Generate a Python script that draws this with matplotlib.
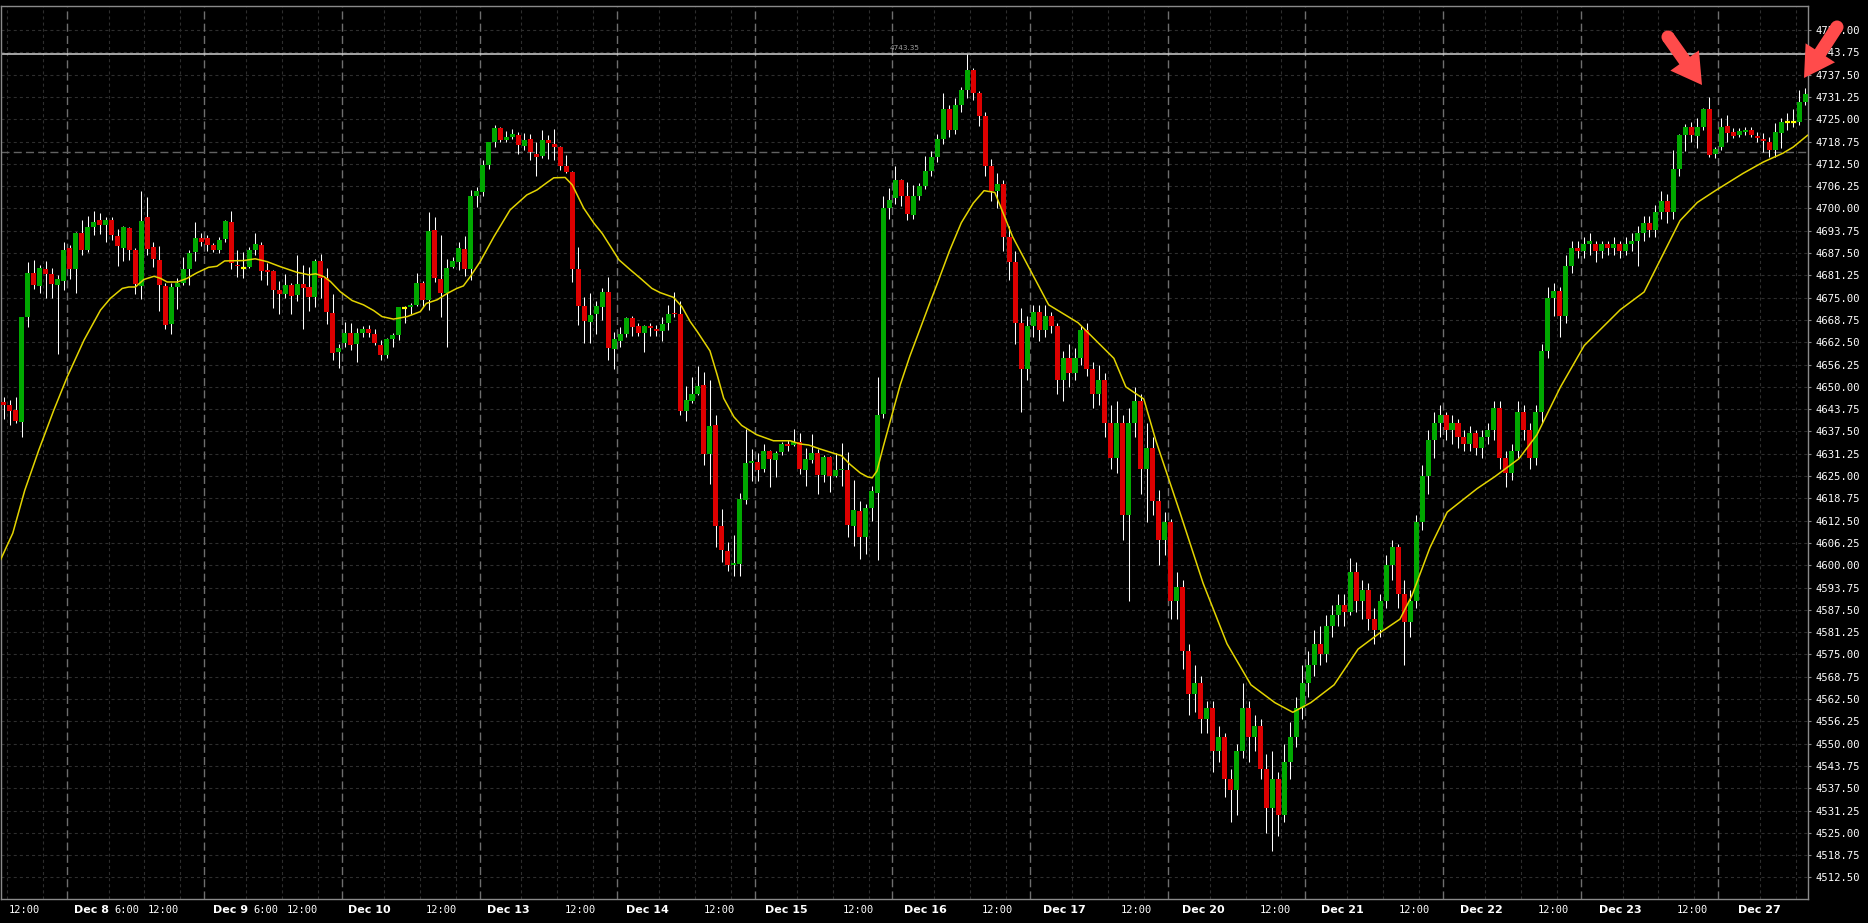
import numpy as np
import matplotlib
matplotlib.use("Agg")
import matplotlib.pyplot as plt
from matplotlib.patches import FancyArrow, Circle
from matplotlib.collections import LineCollection
from matplotlib.transforms import IdentityTransform

plt.rcParams['lines.scale_dashes'] = False

# ---------------- data (hourly candles, x = bar number) ----------------
opens = [4645.8, 4644.9, 4643.5, 4640.2, 4669.6, 4681.8, 4678.3, 4683.0, 4681.6, 4678.5,
         4679.6, 4688.9, 4683.0, 4693.2, 4688.3, 4694.9, 4696.9, 4695.3, 4696.7, 4692.3,
         4689.0, 4694.4, 4688.5, 4678.3, 4697.6, 4689.1, 4685.5, 4678.2, 4667.7, 4678.0,
         4679.2, 4683.0, 4687.8, 4691.6, 4691.6, 4689.7, 4688.3, 4691.4, 4696.3, 4684.3,
         4683.4, 4683.7, 4688.4, 4689.8, 4682.8, 4682.4, 4677.2, 4676.1, 4678.6, 4675.8,
         4678.8, 4677.9, 4675.3, 4685.3, 4680.4, 4670.8, 4659.9, 4662.4, 4665.0, 4661.9,
         4665.2, 4666.2, 4664.8, 4661.7, 4658.8, 4663.3, 4664.6, 4672.1, 4672.5, 4673.0,
         4679.0, 4674.4, 4694.0, 4680.2, 4676.4, 4683.7, 4685.1, 4688.6, 4683.1, 4703.5,
         4704.7, 4712.2, 4718.5, 4722.6, 4719.2, 4720.1, 4720.6, 4717.6, 4719.5, 4715.3,
         4714.8, 4719.2, 4718.1, 4717.2, 4711.9, 4710.1, 4683.1, 4672.7, 4668.3, 4670.4,
         4672.5, 4676.6, 4660.7, 4663.0, 4664.8, 4669.2, 4667.1, 4665.2, 4667.1, 4666.1,
         4665.8, 4667.8, 4670.8, 4670.3, 4643.3, 4646.1, 4648.0, 4650.4, 4631.2, 4639.2,
         4611.0, 4604.0, 4600.1, 4600.4, 4618.4, 4628.8, 4629.0, 4627.1, 4632.0, 4629.5,
         4631.8, 4634.1, 4633.8, 4634.5, 4626.7, 4629.5, 4631.6, 4625.3, 4630.4, 4625.0,
         4626.7, 4626.7, 4611.1, 4615.3, 4607.9, 4616.0, 4620.2, 4642.5, 4700.1, 4702.9,
         4708.1, 4703.5, 4698.2, 4703.6, 4706.3, 4710.5, 4714.5, 4719.5, 4728.0, 4722.0,
         4729.0, 4733.2, 4738.8, 4732.3, 4726.0, 4712.0, 4705.0, 4707.0, 4692.0, 4685.0,
         4668.0, 4655.0, 4667.0, 4671.0, 4666.0, 4670.0, 4667.0, 4652.0, 4658.0, 4654.0,
         4658.0, 4666.0, 4655.0, 4648.0, 4652.0, 4640.0, 4630.0, 4640.0, 4614.0, 4640.0,
         4646.0, 4627.0, 4633.0, 4618.0, 4607.0, 4612.0, 4590.0, 4594.0, 4576.0, 4564.0,
         4567.0, 4557.0, 4560.0, 4548.0, 4552.0, 4540.0, 4537.0, 4548.0, 4560.0, 4552.0,
         4555.0, 4543.0, 4532.0, 4540.0, 4530.0, 4545.0, 4552.0, 4560.0, 4567.0, 4572.0,
         4578.0, 4575.0, 4583.0, 4586.0, 4589.0, 4587.0, 4598.0, 4590.0, 4593.0, 4585.0,
         4582.0, 4590.0, 4600.0, 4605.0, 4592.0, 4584.0, 4590.0, 4612.0, 4625.0, 4635.0,
         4640.0, 4642.0, 4638.0, 4640.0, 4636.0, 4634.0, 4637.0, 4633.0, 4636.0, 4638.0,
         4644.0, 4630.0, 4626.0, 4632.0, 4643.0, 4638.0, 4630.0, 4643.0, 4660.0, 4675.0,
         4677.0, 4670.0, 4684.0, 4689.0, 4688.0, 4690.0, 4690.0, 4688.0, 4690.0, 4689.0,
         4690.0, 4688.0, 4690.0, 4691.0, 4693.0, 4696.0, 4694.0, 4699.0, 4702.0, 4699.0,
         4711.1, 4720.6, 4722.9, 4720.4, 4722.9, 4727.8, 4715.3, 4717.1, 4723.1, 4721.3,
         4720.6, 4721.5, 4722.0, 4720.3, 4719.6, 4718.7, 4716.4, 4721.1, 4724.2, 4724.2,
         4724.3, 4729.9]
highs = [4647.2, 4646.3, 4647.2, 4669.6, 4685.0, 4685.7, 4684.1, 4685.3, 4683.4, 4681.3,
         4690.7, 4689.7, 4693.5, 4696.7, 4697.8, 4699.3, 4698.6, 4697.7, 4697.7, 4694.2,
         4695.0, 4694.9, 4689.0, 4704.9, 4703.3, 4690.7, 4689.4, 4679.0, 4679.2, 4680.4,
         4686.3, 4688.3, 4696.3, 4693.0, 4692.5, 4690.2, 4692.0, 4696.9, 4699.2, 4688.3,
         4687.9, 4689.3, 4693.2, 4690.7, 4684.6, 4682.8, 4679.8, 4681.7, 4679.1, 4687.0,
         4684.2, 4683.7, 4685.9, 4687.3, 4683.2, 4676.0, 4662.1, 4668.2, 4667.8, 4666.4,
         4667.1, 4667.3, 4666.2, 4663.2, 4663.6, 4665.2, 4672.5, 4672.7, 4673.6, 4681.8,
         4679.8, 4699.1, 4697.7, 4692.6, 4685.9, 4686.5, 4690.7, 4692.3, 4705.2, 4706.1,
         4713.6, 4718.7, 4723.4, 4722.9, 4721.7, 4722.3, 4721.3, 4721.1, 4720.9, 4718.5,
         4722.0, 4720.6, 4722.3, 4717.4, 4715.0, 4710.6, 4689.3, 4675.1, 4676.4, 4674.2,
         4677.8, 4680.9, 4665.5, 4666.9, 4669.7, 4669.9, 4667.8, 4667.4, 4667.8, 4667.4,
         4669.5, 4673.0, 4676.6, 4674.1, 4650.3, 4652.9, 4655.9, 4654.1, 4652.0, 4642.2,
         4615.7, 4606.5, 4608.4, 4620.3, 4638.3, 4632.6, 4631.6, 4634.0, 4632.4, 4632.1,
         4634.5, 4635.1, 4638.3, 4637.0, 4633.0, 4636.8, 4632.6, 4630.9, 4630.7, 4631.4,
         4634.3, 4631.8, 4623.9, 4617.9, 4617.2, 4622.3, 4652.9, 4703.5, 4705.7, 4711.9,
         4708.4, 4707.4, 4706.5, 4707.2, 4714.8, 4716.0, 4721.0, 4732.3, 4729.0, 4731.0,
         4734.0, 4743.35, 4739.5, 4733.0, 4727.0, 4714.0, 4710.0, 4708.0, 4695.0, 4688.0,
         4672.0, 4670.0, 4673.0, 4673.0, 4673.0, 4671.0, 4668.0, 4660.0, 4662.0, 4661.0,
         4667.0, 4668.0, 4657.0, 4656.0, 4654.0, 4645.0, 4646.0, 4642.0, 4644.0, 4650.0,
         4648.0, 4640.0, 4636.0, 4621.0, 4615.0, 4613.0, 4598.0, 4596.0, 4578.0, 4572.0,
         4569.0, 4562.0, 4562.0, 4555.0, 4553.0, 4543.0, 4550.0, 4567.0, 4562.0, 4558.0,
         4557.0, 4547.0, 4548.0, 4542.0, 4550.0, 4556.0, 4563.0, 4572.0, 4576.0, 4582.0,
         4583.0, 4586.0, 4589.0, 4592.0, 4592.0, 4602.0, 4601.0, 4596.0, 4595.0, 4588.0,
         4592.0, 4603.0, 4607.0, 4606.0, 4596.0, 4593.0, 4614.0, 4628.0, 4638.0, 4643.0,
         4645.0, 4643.0, 4642.0, 4641.0, 4638.0, 4639.0, 4638.0, 4638.0, 4640.0, 4646.0,
         4646.0, 4632.0, 4634.0, 4646.0, 4645.0, 4640.0, 4645.0, 4662.0, 4678.0, 4679.0,
         4678.0, 4687.0, 4691.0, 4691.0, 4692.0, 4693.0, 4691.0, 4691.0, 4691.0, 4692.0,
         4691.0, 4692.0, 4693.0, 4695.0, 4698.0, 4698.0, 4701.0, 4705.0, 4704.0, 4716.4,
         4720.8, 4723.8, 4724.3, 4725.3, 4728.1, 4731.2, 4717.3, 4725.3, 4726.2, 4722.5,
         4722.5, 4722.7, 4722.7, 4721.5, 4721.1, 4720.1, 4723.9, 4725.3, 4726.7, 4727.8,
         4733.2, 4733.7]
lows = [4641.1, 4639.2, 4640.0, 4636.0, 4666.8, 4677.3, 4676.4, 4675.0, 4675.0, 4659.3,
        4677.1, 4680.3, 4676.4, 4686.9, 4687.8, 4692.5, 4692.8, 4690.6, 4691.1, 4683.9,
        4685.3, 4685.5, 4676.0, 4674.7, 4687.0, 4683.6, 4671.3, 4666.3, 4664.9, 4671.7,
        4678.5, 4678.5, 4685.3, 4689.4, 4688.2, 4687.7, 4687.4, 4690.6, 4683.0, 4680.8,
        4680.4, 4683.2, 4687.0, 4680.0, 4678.6, 4672.2, 4670.4, 4674.8, 4670.4, 4674.2,
        4666.3, 4671.3, 4672.3, 4675.0, 4667.5, 4657.4, 4655.2, 4661.1, 4660.2, 4656.9,
        4664.1, 4664.1, 4661.7, 4657.5, 4658.0, 4661.1, 4663.2, 4668.0, 4670.4, 4672.6,
        4672.3, 4671.6, 4679.3, 4669.7, 4661.3, 4683.2, 4682.8, 4681.2, 4680.0, 4700.5,
        4703.5, 4711.1, 4717.3, 4718.7, 4718.5, 4719.5, 4715.3, 4716.4, 4713.6, 4709.2,
        4714.1, 4713.9, 4713.6, 4710.8, 4709.9, 4679.5, 4667.4, 4662.2, 4662.2, 4664.8,
        4668.8, 4657.4, 4655.0, 4661.1, 4664.1, 4664.4, 4664.4, 4659.9, 4664.4, 4664.4,
        4663.0, 4666.0, 4669.7, 4642.1, 4640.3, 4645.4, 4647.7, 4628.0, 4622.9, 4605.1,
        4600.8, 4598.5, 4597.0, 4597.0, 4617.2, 4623.6, 4623.6, 4626.1, 4622.0, 4624.8,
        4630.9, 4632.1, 4633.3, 4625.5, 4622.3, 4628.6, 4620.1, 4623.3, 4620.6, 4624.8,
        4622.3, 4607.9, 4605.4, 4601.8, 4603.2, 4612.5, 4601.5, 4641.3, 4697.0, 4701.3,
        4700.6, 4696.8, 4697.0, 4702.5, 4705.5, 4709.0, 4713.0, 4718.0, 4720.0, 4721.0,
        4727.0, 4731.0, 4730.4, 4723.0, 4709.0, 4702.0, 4700.0, 4688.0, 4680.0, 4662.0,
        4643.0, 4652.0, 4664.0, 4663.0, 4664.0, 4665.0, 4648.0, 4646.0, 4650.0, 4652.0,
        4656.0, 4653.0, 4644.0, 4645.0, 4636.0, 4627.0, 4626.0, 4607.0, 4590.0, 4636.0,
        4620.0, 4612.0, 4614.0, 4600.0, 4603.0, 4585.0, 4585.0, 4571.0, 4558.0, 4559.0,
        4553.0, 4553.0, 4542.0, 4545.0, 4535.0, 4528.0, 4530.0, 4546.0, 4545.0, 4548.0,
        4540.0, 4525.0, 4520.0, 4524.0, 4528.0, 4540.0, 4549.0, 4557.0, 4563.0, 4569.0,
        4572.0, 4573.0, 4580.0, 4583.0, 4583.0, 4586.0, 4587.0, 4585.0, 4582.0, 4578.0,
        4580.0, 4588.0, 4596.0, 4588.0, 4572.0, 4580.0, 4588.0, 4610.0, 4620.0, 4630.0,
        4636.0, 4635.0, 4634.0, 4633.0, 4632.0, 4632.0, 4631.0, 4630.0, 4634.0, 4635.0,
        4627.0, 4622.0, 4624.0, 4630.0, 4635.0, 4627.0, 4628.0, 4640.0, 4658.0, 4670.0,
        4664.0, 4668.0, 4682.0, 4686.0, 4686.0, 4687.0, 4685.0, 4686.0, 4687.0, 4687.0,
        4686.0, 4687.0, 4688.0, 4684.0, 4691.0, 4692.0, 4692.0, 4697.0, 4696.0, 4697.0,
        4709.0, 4716.0, 4718.7, 4716.9, 4722.0, 4714.5, 4714.1, 4716.4, 4718.7, 4719.7,
        4720.1, 4720.6, 4720.0, 4718.7, 4715.9, 4714.5, 4714.5, 4716.9, 4722.0, 4722.9,
        4723.4, 4729.0]
closes = [4645.0, 4643.3, 4640.4, 4669.6, 4681.8, 4678.5, 4683.2, 4681.7, 4678.9, 4680.1,
          4688.3, 4683.0, 4693.2, 4688.3, 4694.9, 4696.3, 4695.3, 4696.7, 4692.6, 4689.5,
          4694.7, 4688.5, 4678.8, 4696.4, 4688.6, 4685.9, 4678.6, 4667.4, 4678.0, 4679.2,
          4683.0, 4687.4, 4691.6, 4690.7, 4689.8, 4688.3, 4691.1, 4696.4, 4684.6, 4683.9,
          4683.4, 4688.4, 4690.1, 4682.6, 4682.3, 4677.2, 4676.0, 4678.6, 4675.6, 4678.8,
          4677.8, 4675.3, 4685.3, 4680.4, 4670.9, 4659.6, 4661.0, 4665.0, 4661.7, 4665.0,
          4666.2, 4665.0, 4662.2, 4658.8, 4663.3, 4664.6, 4672.3, 4672.1, 4672.9, 4679.0,
          4674.4, 4693.7, 4680.6, 4676.4, 4683.2, 4685.3, 4688.8, 4683.1, 4703.5, 4704.9,
          4712.2, 4718.5, 4722.6, 4719.3, 4719.9, 4720.9, 4717.9, 4719.2, 4715.7, 4714.5,
          4719.2, 4718.3, 4717.2, 4712.0, 4710.1, 4683.1, 4672.8, 4668.6, 4670.2, 4672.7,
          4676.6, 4661.0, 4663.3, 4664.8, 4669.2, 4666.9, 4665.0, 4667.1, 4666.4, 4665.6,
          4667.6, 4670.4, 4670.3, 4643.3, 4646.3, 4648.0, 4650.3, 4631.2, 4639.0, 4611.1,
          4604.3, 4600.2, 4600.6, 4618.6, 4628.8, 4629.2, 4626.7, 4632.0, 4629.7, 4631.4,
          4634.0, 4633.5, 4634.5, 4627.1, 4629.7, 4631.6, 4625.3, 4630.4, 4625.0, 4626.7,
          4627.0, 4611.2, 4615.5, 4607.9, 4616.0, 4620.9, 4642.2, 4700.1, 4702.5, 4708.1,
          4703.5, 4698.4, 4703.6, 4706.3, 4710.5, 4714.5, 4719.5, 4728.0, 4722.0, 4729.0,
          4733.2, 4738.8, 4732.3, 4726.0, 4712.0, 4705.0, 4707.0, 4692.0, 4685.0, 4668.0,
          4655.0, 4667.0, 4671.0, 4666.0, 4670.0, 4667.0, 4652.0, 4658.0, 4654.0, 4658.0,
          4666.0, 4655.0, 4648.0, 4652.0, 4640.0, 4630.0, 4640.0, 4614.0, 4640.0, 4646.0,
          4627.0, 4633.0, 4618.0, 4607.0, 4612.0, 4590.0, 4594.0, 4576.0, 4564.0, 4567.0,
          4557.0, 4560.0, 4548.0, 4552.0, 4540.0, 4537.0, 4548.0, 4560.0, 4552.0, 4555.0,
          4543.0, 4532.0, 4540.0, 4530.0, 4545.0, 4552.0, 4560.0, 4567.0, 4572.0, 4578.0,
          4575.0, 4583.0, 4586.0, 4589.0, 4587.0, 4598.0, 4590.0, 4593.0, 4585.0, 4582.0,
          4590.0, 4600.0, 4605.0, 4592.0, 4584.0, 4590.0, 4612.0, 4625.0, 4635.0, 4640.0,
          4642.0, 4638.0, 4640.0, 4636.0, 4634.0, 4637.0, 4633.0, 4636.0, 4638.0, 4644.0,
          4630.0, 4626.0, 4632.0, 4643.0, 4638.0, 4630.0, 4643.0, 4660.0, 4675.0, 4677.0,
          4670.0, 4684.0, 4689.0, 4688.0, 4690.0, 4691.0, 4688.0, 4690.0, 4689.0, 4690.0,
          4688.0, 4690.0, 4691.0, 4693.0, 4696.0, 4694.0, 4699.0, 4702.0, 4699.0, 4711.1,
          4720.6, 4722.9, 4720.6, 4722.7, 4727.8, 4715.0, 4716.7, 4722.9, 4721.1, 4720.4,
          4721.7, 4722.0, 4720.6, 4719.7, 4718.8, 4716.4, 4721.3, 4724.1, 4724.2, 4724.2,
          4729.9, 4732.1]

# moving average: (bar position, value)
ma_pos = [-0.55, 1.5, 3.5, 5.85, 8.36, 10.6, 13.4, 16.15, 17.8, 19.8, 20.9, 22.0, 23.4, 25.1,
          26.2, 27.3, 29.0, 30.6, 32.3, 34.2, 35.6, 36.9, 40.1, 42.0, 44.0, 46.2, 49.0, 51.0,
          52.1, 53.5, 54.6, 56.2, 58.2, 60.1, 61.8, 63.2, 65.1, 67.4, 69.6, 70.6, 72.4, 74.1,
          75.7, 76.8, 77.95, 79.6, 81.9, 84.6, 87.4, 89.1, 90.8, 91.9, 93.8, 95.0, 96.9, 98.6,
          100.0, 101.4, 102.8, 104.7, 106.4, 108.3, 109.7, 111.9, 113.3, 114.7, 115.8, 116.9,
          118.0, 119.2, 120.3, 122.0, 123.3, 125.8, 128.6, 131.4, 133.1, 134.5, 136.4, 138.7,
          140.0, 141.4, 143.1, 144.3, 145.1, 145.9, 147.0, 148.1, 149.8, 151.4, 153.1, 154.8,
          156.0, 158.0, 160.0, 162.0, 163.8, 165.6, 168.6, 174.6, 179.5, 185.5, 187.5, 190.5,
          192.5, 196.5, 200.4, 204.4, 208.4, 212.4, 215.4, 218.4, 222.3, 226.3, 230.3, 233.3,
          235.3, 238.3, 241.2, 246.2, 249.2, 253.2, 256.2, 260.1, 264.1, 270.1, 274.1, 277.1,
          280.1, 283.0, 286.0, 290.6, 294.0, 297.3, 299.0, 301.4]
ma_val = [4601.5, 4609.0, 4621.0, 4632.3, 4643.5, 4652.8, 4663.1, 4671.5, 4674.8, 4677.6,
          4678.0, 4678.0, 4680.1, 4681.0, 4680.4, 4679.4, 4679.4, 4680.4, 4682.0, 4683.5,
          4683.8, 4685.3, 4685.4, 4685.9, 4685.1, 4683.7, 4682.1, 4681.4, 4681.7, 4680.9,
          4679.5, 4676.7, 4674.2, 4673.0, 4671.4, 4669.7, 4669.0, 4669.7, 4671.1, 4673.4,
          4674.4, 4676.2, 4677.6, 4678.3, 4680.9, 4685.1, 4692.1, 4699.6, 4703.8, 4705.2,
          4707.3, 4708.6, 4708.7, 4706.6, 4700.1, 4695.9, 4693.0, 4689.3, 4685.6, 4682.8,
          4680.4, 4677.6, 4676.4, 4675.1, 4672.5, 4668.3, 4665.7, 4662.9, 4660.1, 4653.4,
          4646.8, 4641.6, 4639.2, 4636.6, 4634.9, 4634.9, 4634.0, 4633.7, 4632.6, 4631.4,
          4630.7, 4628.3, 4625.9, 4624.8, 4624.5, 4626.4, 4633.5, 4640.2, 4650.6, 4658.6,
          4666.2, 4673.8, 4679.0, 4688.0, 4696.0, 4701.5, 4705.0, 4704.5, 4692.0, 4673.0,
          4668.0, 4658.0, 4650.0, 4646.6, 4635.0, 4615.0, 4595.0, 4578.0, 4566.5, 4561.5,
          4558.8, 4561.5, 4566.5, 4576.5, 4581.5, 4584.9, 4591.5, 4604.9, 4614.9, 4621.5,
          4624.9, 4629.9, 4636.6, 4649.9, 4661.6, 4671.6, 4676.6, 4686.6, 4696.6, 4701.7,
          4705.0, 4709.8, 4713.0, 4715.5, 4717.2, 4720.5]

day_start_bars = [-12, 11, 34, 57, 80, 103, 126, 149, 172, 195, 218, 241, 264, 287]
date_labels = ['Dec 8', 'Dec 9', 'Dec 10', 'Dec 13', 'Dec 14', 'Dec 15', 'Dec 16',
               'Dec 17', 'Dec 20', 'Dec 21', 'Dec 22', 'Dec 23', 'Dec 27']
noon_label = '12:00'
six_label = '6:00'
price_ticks = [4512.5 + 6.25 * k for k in range(39)]
level_line = 4743.35
dashed_level = 4715.75

# ---------------- figure geometry ----------------
W, H = 1868, 923
fig = plt.figure(figsize=(W / 100, H / 100), dpi=100, facecolor='black')
ax = fig.add_axes([0.5 / W, (H - 899) / H, 1807.5 / W, (899 - 6) / H])
ax.set_facecolor('black')

BAR_PX = 5.986
X0_PX = 3.3


def px2bar(px):
    return (px - X0_PX) / BAR_PX


ax.set_xlim(px2bar(0), px2bar(1808))
ax.set_ylim(4506.47, 4756.75)

# grid
for v in price_ticks:
    ax.axhline(v, color='#2e2e2e', lw=0.8, dashes=(2.2, 2.2), zorder=0.5)
for s in day_start_bars:
    for off in (6.5, 12.5, 18.5):
        ax.axvline(s + off, color='#2e2e2e', lw=0.8, dashes=(2.2, 2.2), zorder=0.5)
    if s > 0:
        ax.axvline(s - 0.5, color='#6e6e6e', lw=1.0, dashes=(5.8, 3.0), zorder=0.6)

ax.axhline(dashed_level, color='#626262', lw=1.0, dashes=(5.8, 3.0), zorder=0.6)
ax.axhline(level_line, color='#d2d2d2', lw=1.1, zorder=0.7)
ax.text(px2bar(904), level_line + 0.7, f'{level_line:.2f}', color='#a0a0a0',
        fontsize=5.2, ha='center', va='bottom', zorder=0.8)

# candles
o = np.array(opens); h = np.array(highs); l = np.array(lows); c = np.array(closes)
x = np.arange(len(o))
wicks = [[(xi, li), (xi, hi)] for xi, li, hi in zip(x, l, h)]
ax.add_collection(LineCollection(wicks, colors='white', linewidths=0.75, zorder=2))
body_lo = np.minimum(o, c)
body_h = np.abs(c - o)
doji = body_h < 0.05
cols = np.where(c > o, '#00a800', '#dd0000')
min_h = 0.3
ax.bar(x[~doji], np.maximum(body_h[~doji], min_h), bottom=body_lo[~doji], width=0.84,
       color=cols[~doji], linewidth=0, zorder=3)
for xi, yi in zip(x[doji], c[doji]):
    ax.plot([xi - 0.42, xi + 0.42], [yi, yi], color='#ffff00', lw=1.6,
            solid_capstyle='butt', zorder=3)

# moving average
ax.plot(ma_pos, ma_val, color='#e3d400', lw=1.1, zorder=4)

# axes styling
for sp in ax.spines.values():
    sp.set_color('#8a8a8a')
    sp.set_linewidth(1.0)
ax.yaxis.tick_right()
ax.set_yticks(price_ticks)
ax.set_yticklabels([f'{v:.2f}' for v in price_ticks], family='DejaVu Sans Mono',
                   fontsize=7.6, color='white')
ax.tick_params(axis='y', colors='#8a8a8a', length=2.5, width=0.8, pad=3, labelcolor='white')
ax.set_xticks([])

# x labels
xt = ax.get_xaxis_transform()
ylab = -(910 - 899) / 893
for k in range(13):
    ax.text(px2bar(24 + 139.06 * k), ylab, noon_label, transform=xt, color='white',
            fontsize=7.5, family='DejaVu Sans Mono', ha='center', va='center', clip_on=False)
for k, lab in enumerate(date_labels):
    ax.text(px2bar(90.6 + 139.1 * k), ylab, lab, transform=xt, color='white',
            fontsize=8, fontweight='bold', family='DejaVu Sans', ha='center', va='center',
            clip_on=False)
for pxc in (126.6, 265.8):
    ax.text(px2bar(pxc), ylab, six_label, transform=xt, color='white', fontsize=7.5,
            family='DejaVu Sans Mono', ha='center', va='center', clip_on=False)


# annotation arrows (given in image pixels, origin top-left)
def arrow(tail, tip):
    tx, ty = tail
    px_, py_ = tip
    a = FancyArrow(tx, H - ty, px_ - tx, -(py_ - ty), width=13, head_width=35,
                   head_length=30, length_includes_head=True, color='#ff4b4b',
                   transform=IdentityTransform(), zorder=20, linewidth=0)
    fig.add_artist(a)
    fig.add_artist(Circle((tx, H - ty), 6.5, color='#ff4b4b', transform=IdentityTransform(),
                          zorder=20, linewidth=0))


arrow((1668, 37), (1702, 85))
arrow((1837, 27), (1804, 78))

fig.savefig('out.png', dpi=100, facecolor='black')
